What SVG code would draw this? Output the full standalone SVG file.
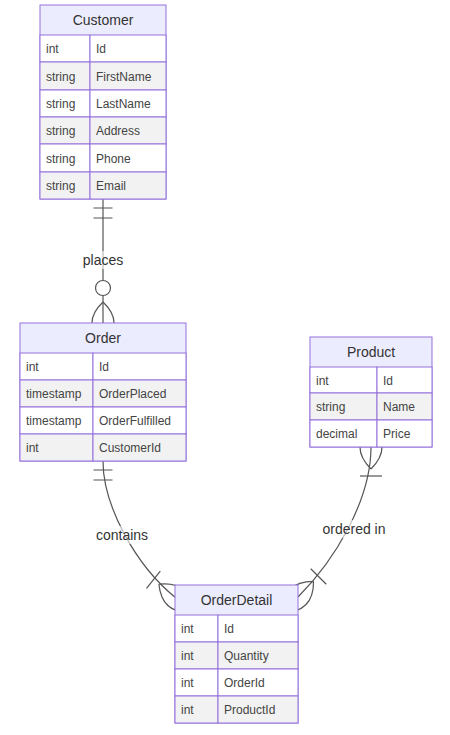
<svg xmlns="http://www.w3.org/2000/svg" width="450" height="735" viewBox="0 0 450 735">
  <style>
    .box{fill:#ECECFF;stroke:#9370DB;stroke-width:1}
    .odd{fill:#ffffff;stroke:#9370DB;stroke-width:1}
    .even{fill:#f2f2f2;stroke:#9370DB;stroke-width:1}
    .title{font-family:"Liberation Sans",Arial,sans-serif;font-size:14px;fill:#333;text-anchor:middle}
    .attr{font-family:"Liberation Sans",Arial,sans-serif;font-size:12px;fill:#444}
    .rel{fill:none;stroke:#555;stroke-width:1.2}
    .mk{fill:none;stroke:#555;stroke-width:1.2}
    .mkc{fill:#fff;stroke:#555;stroke-width:1.2}
    .lbl{font-family:"Liberation Sans",Arial,sans-serif;font-size:14px;fill:#333;text-anchor:middle}
    .lblbg{fill:#fff;fill-opacity:0.6}
  </style>
  <defs>
    <!-- exactly one: two bars before the entity edge -->
    <marker id="onlyOne" markerUnits="userSpaceOnUse" orient="auto-start-reverse" refX="40" refY="20" markerWidth="80" markerHeight="40" overflow="visible">
      <path class="mk" d="M21,10.5 L21,29.5 M31,10.5 L31,29.5"/>
    </marker>
    <!-- zero or more: circle plus crow's foot -->
    <marker id="zeroMany" markerUnits="userSpaceOnUse" orient="auto-start-reverse" refX="40" refY="20" markerWidth="80" markerHeight="40" overflow="visible">
      <path class="mk" d="M19,20 Q40,-2 61,20 Q40,42 19,20"/>
      <circle class="mkc" cx="5" cy="20" r="7.5"/>
    </marker>
    <!-- one or more: bar plus crow's foot -->
    <marker id="oneMany" markerUnits="userSpaceOnUse" orient="auto-start-reverse" refX="40" refY="20" markerWidth="80" markerHeight="40" overflow="visible">
      <path class="mk" d="M11,9 L11,31"/>
      <path class="mk" d="M18,20 Q40,-2 62,20 Q40,42 18,20"/>
    </marker>
  </defs>

  <g id="connectors">
    <path class="rel" d="M103,199 L103,323" marker-start="url(#onlyOne)" marker-end="url(#zeroMany)"/>
    <path class="rel" d="M103,461 C103,505 135,565 176,598" marker-start="url(#onlyOne)" marker-end="url(#oneMany)"/>
    <path class="rel" d="M371,447 C371,500 335,560 298,597" marker-start="url(#oneMany)" marker-end="url(#oneMany)"/>
    <rect class="lblbg" x="81" y="251" width="44" height="18"/>
    <text class="lbl" x="103" y="265">places</text>
    <rect class="lblbg" x="94" y="526" width="56" height="18"/>
    <text class="lbl" x="122" y="540">contains</text>
    <rect class="lblbg" x="318" y="520" width="72" height="18"/>
    <text class="lbl" x="354" y="534">ordered in</text>
  </g>

  <g id="customer">
    <rect class="box" x="40" y="5" width="126" height="194"/>
    <text class="title" x="103" y="25">Customer</text>
    <rect class="odd" x="40" y="35" width="50" height="27"/><rect class="odd" x="90" y="35" width="76" height="27"/>
    <rect class="even" x="40" y="62" width="50" height="28"/><rect class="even" x="90" y="62" width="76" height="28"/>
    <rect class="odd" x="40" y="90" width="50" height="27"/><rect class="odd" x="90" y="90" width="76" height="27"/>
    <rect class="even" x="40" y="117" width="50" height="27"/><rect class="even" x="90" y="117" width="76" height="27"/>
    <rect class="odd" x="40" y="144" width="50" height="28"/><rect class="odd" x="90" y="144" width="76" height="28"/>
    <rect class="even" x="40" y="172" width="50" height="27"/><rect class="even" x="90" y="172" width="76" height="27"/>
    <text class="attr" x="46" y="53">int</text><text class="attr" x="96" y="53">Id</text>
    <text class="attr" x="46" y="80.5">string</text><text class="attr" x="96" y="80.5">FirstName</text>
    <text class="attr" x="46" y="108">string</text><text class="attr" x="96" y="108">LastName</text>
    <text class="attr" x="46" y="135">string</text><text class="attr" x="96" y="135">Address</text>
    <text class="attr" x="46" y="162.5">string</text><text class="attr" x="96" y="162.5">Phone</text>
    <text class="attr" x="46" y="190">string</text><text class="attr" x="96" y="190">Email</text>
  </g>

  <g id="order">
    <rect class="box" x="20" y="323" width="166" height="138"/>
    <text class="title" x="103" y="343">Order</text>
    <rect class="odd" x="20" y="353" width="73" height="27"/><rect class="odd" x="93" y="353" width="93" height="27"/>
    <rect class="even" x="20" y="380" width="73" height="27"/><rect class="even" x="93" y="380" width="93" height="27"/>
    <rect class="odd" x="20" y="407" width="73" height="27"/><rect class="odd" x="93" y="407" width="93" height="27"/>
    <rect class="even" x="20" y="434" width="73" height="27"/><rect class="even" x="93" y="434" width="93" height="27"/>
    <text class="attr" x="26" y="371">int</text><text class="attr" x="99" y="371">Id</text>
    <text class="attr" x="26" y="398">timestamp</text><text class="attr" x="99" y="398">OrderPlaced</text>
    <text class="attr" x="26" y="425">timestamp</text><text class="attr" x="99" y="425">OrderFulfilled</text>
    <text class="attr" x="26" y="452">int</text><text class="attr" x="99" y="452">CustomerId</text>
  </g>

  <g id="product">
    <rect class="box" x="310" y="337" width="122" height="110"/>
    <text class="title" x="371" y="357">Product</text>
    <rect class="odd" x="310" y="367" width="67" height="26"/><rect class="odd" x="377" y="367" width="55" height="26"/>
    <rect class="even" x="310" y="393" width="67" height="27"/><rect class="even" x="377" y="393" width="55" height="27"/>
    <rect class="odd" x="310" y="420" width="67" height="27"/><rect class="odd" x="377" y="420" width="55" height="27"/>
    <text class="attr" x="316" y="384.5">int</text><text class="attr" x="383" y="384.5">Id</text>
    <text class="attr" x="316" y="411">string</text><text class="attr" x="383" y="411">Name</text>
    <text class="attr" x="316" y="438">decimal</text><text class="attr" x="383" y="438">Price</text>
  </g>

  <g id="orderdetail">
    <rect class="box" x="175" y="585" width="123" height="138"/>
    <text class="title" x="236.5" y="605">OrderDetail</text>
    <rect class="odd" x="175" y="615" width="43" height="27"/><rect class="odd" x="218" y="615" width="80" height="27"/>
    <rect class="even" x="175" y="642" width="43" height="27"/><rect class="even" x="218" y="642" width="80" height="27"/>
    <rect class="odd" x="175" y="669" width="43" height="27"/><rect class="odd" x="218" y="669" width="80" height="27"/>
    <rect class="even" x="175" y="696" width="43" height="27"/><rect class="even" x="218" y="696" width="80" height="27"/>
    <text class="attr" x="181" y="633">int</text><text class="attr" x="224" y="633">Id</text>
    <text class="attr" x="181" y="660">int</text><text class="attr" x="224" y="660">Quantity</text>
    <text class="attr" x="181" y="687">int</text><text class="attr" x="224" y="687">OrderId</text>
    <text class="attr" x="181" y="714">int</text><text class="attr" x="224" y="714">ProductId</text>
  </g>
</svg>
